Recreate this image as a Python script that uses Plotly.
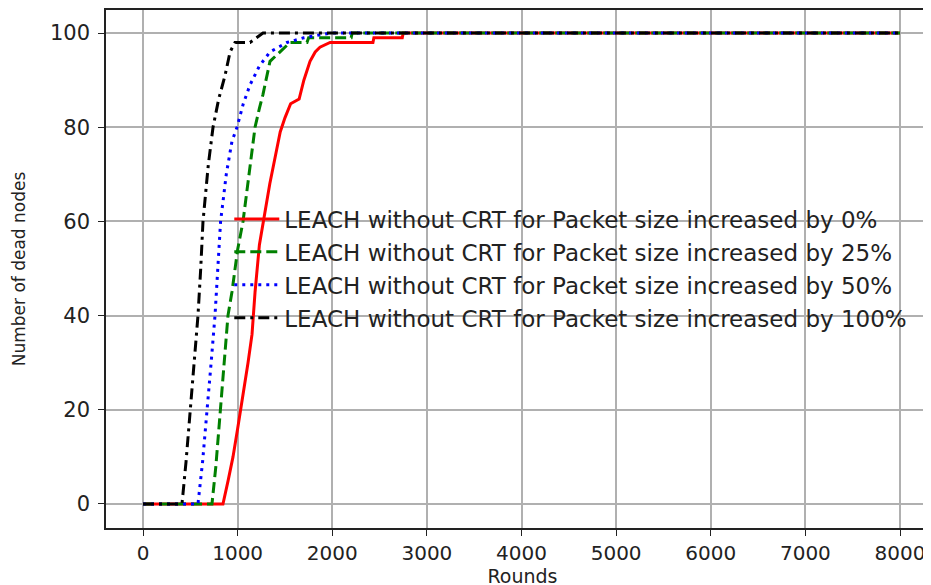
import plotly.graph_objects as go

# Rounds / number of dead nodes
red_x = [0, 845, 900, 951, 1000, 1057, 1110, 1152, 1184, 1230, 1290, 1340, 1400, 1450, 1500, 1560, 1650, 1700, 1765, 1820, 1870, 1977, 2430, 2440, 2740, 2750, 8000]
red_y = [0, 0, 5, 10, 16, 23, 30, 36, 45, 55, 62, 68, 74, 79, 82, 85, 86, 90, 94, 96, 97, 98, 98, 99, 99, 100, 100]

green_x = [0, 729, 770, 814, 860, 898, 940, 1000, 1057, 1120, 1184, 1230, 1268, 1342, 1448, 1553, 1733, 1750, 2200, 2210, 8000]
green_y = [0, 0, 8, 19, 30, 40, 45, 54, 60, 70, 80, 84, 87, 94, 96, 98, 98, 99, 99, 100, 100]

blue_x = [0, 581, 630, 676, 720, 761, 790, 820, 880, 940, 993, 1060, 1131, 1230, 1342, 1522, 1700, 1977, 8000]
blue_y = [0, 0, 9, 19, 30, 40, 50, 60, 70, 77, 80, 85, 89, 93, 96, 98, 99, 100, 100]

black_x = [0, 412, 455, 497, 540, 581, 610, 634, 690, 740, 800, 867, 920, 972, 1131, 1200, 1268, 8000]
black_y = [0, 0, 9, 19, 30, 40, 50, 60, 72, 80, 86, 91, 96, 98, 98, 99, 100, 100]

names = [
    "LEACH without CRT for Packet size increased by 0%",
    "LEACH without CRT for Packet size increased by 25%",
    "LEACH without CRT for Packet size increased by 50%",
    "LEACH without CRT for Packet size increased by 100%",
]
x_ticks = [0, 1000, 2000, 3000, 4000, 5000, 6000, 7000, 8000]
y_ticks = [0, 20, 40, 60, 80, 100]

series = [
    (red_x, red_y, "#ff0000", "solid"),
    (green_x, green_y, "#008000", "11px,5px"),
    (blue_x, blue_y, "#0000ff", "3px,5px"),
    (black_x, black_y, "#000000", "11px,5px,3px,5px"),
]

fig = go.Figure()
for i, (xs, ys, col, dash) in enumerate(series):
    fig.add_trace(go.Scatter(
        x=xs, y=ys, mode="lines", name=names[i],
        line=dict(color=col, width=3, dash=dash),
        legendgroup=f"g{i}",
    ))

font = "DejaVu Sans"
fig.update_layout(
    width=931, height=585,
    margin=dict(l=98, r=0, t=2, b=65, autoexpand=False),
    paper_bgcolor="white", plot_bgcolor="white",
    font=dict(family=font, size=18, color="#222222"),
    showlegend=True,
    legend=dict(
        x=0.148, y=0.638, xanchor="left", yanchor="top",
        bgcolor="rgba(0,0,0,0)", borderwidth=0,
        font=dict(family=font, size=23, color="#222222"),
        traceorder="grouped", tracegroupgap=0, itemwidth=45,
    ),
    xaxis=dict(
        range=[-391, 8412], tickvals=x_ticks, automargin=False,
        showgrid=True, gridcolor="#b0b0b0", gridwidth=1.5,
        showline=True, linecolor="#222222", linewidth=1.5, mirror=True,
        ticks="outside", ticklen=6, tickcolor="#222222",
        zeroline=False,
        title=dict(text="Rounds", font=dict(family=font, size=19), standoff=6),
        tickfont=dict(family=font, size=20),
    ),
    yaxis=dict(
        range=[-5.1, 104.9], tickvals=y_ticks, automargin=False,
        showgrid=True, gridcolor="#b0b0b0", gridwidth=1.5,
        showline=True, linecolor="#222222", linewidth=1.5,
        ticks="outside", ticklen=6, tickcolor="#222222",
        zeroline=False, ticklabelstandoff=4,
        title=dict(text="Number of dead nodes", font=dict(family=font, size=17), standoff=20),
        tickfont=dict(family=font, size=21),
    ),
)

fig.write_html("out.html")
